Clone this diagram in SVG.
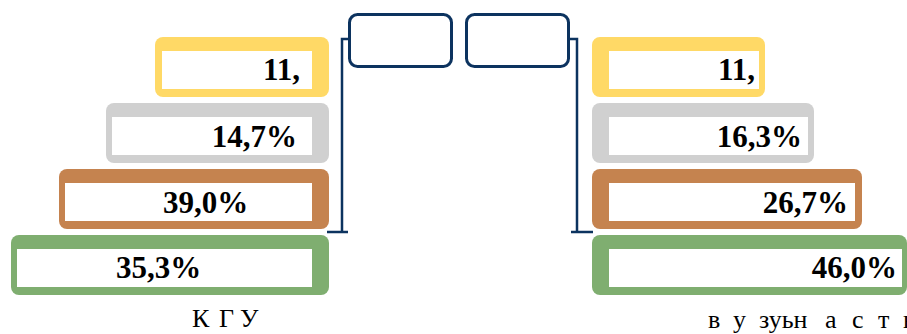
<svg xmlns="http://www.w3.org/2000/svg" width="907" height="334" viewBox="0 0 907 334">
<style>
.inner{fill:#ffffff}
.y{fill:#ffd966}
.g{fill:#d0d0d0}
.o{fill:#c5834f}
.gr{fill:#7fae70}
.val{font-family:"Liberation Serif","Times New Roman",serif;font-weight:bold;font-size:31px;fill:#000}
.lab{font-family:"Liberation Serif","Times New Roman",serif;font-size:26px;fill:#000}
.blue{fill:#ffffff;stroke:#0c335f;stroke-width:3}
.conn{fill:none;stroke:#0c335f;stroke-width:2.5}
</style>
<rect width="907" height="334" fill="#ffffff"/>
<g id="left-yellow">
<rect class="y" x="155" y="37" width="174" height="60" rx="8"/>
<rect class="inner" x="162" y="51" width="150" height="38"/>
<text class="val" x="300" y="80" text-anchor="end">11,</text>
</g>
<g id="left-gray">
<rect class="g" x="106" y="103" width="223" height="60" rx="8"/>
<rect class="inner" x="112" y="117" width="200" height="38"/>
<text class="val" x="297" y="147" text-anchor="end">14,7%</text>
</g>
<g id="left-orange">
<rect class="o" x="59" y="169" width="270" height="60" rx="8"/>
<rect class="inner" x="65" y="183" width="247" height="38"/>
<text class="val" x="163" y="213">39,0%</text>
</g>
<g id="left-green">
<rect class="gr" x="11" y="235" width="318" height="60" rx="8"/>
<rect class="inner" x="17" y="249" width="295" height="38"/>
<text class="val" x="116" y="278">35,3%</text>
</g>
<g id="right-yellow">
<rect class="y" x="592" y="37" width="173" height="60" rx="8"/>
<rect class="inner" x="609" y="51" width="150" height="38"/>
<text class="val" x="755" y="80" text-anchor="end">11,</text>
</g>
<g id="right-gray">
<rect class="g" x="592" y="103" width="222" height="60" rx="8"/>
<rect class="inner" x="609" y="117" width="199" height="38"/>
<text class="val" x="802" y="147" text-anchor="end">16,3%</text>
</g>
<g id="right-orange">
<rect class="o" x="592" y="169" width="270" height="60" rx="8"/>
<rect class="inner" x="609" y="183" width="246" height="38"/>
<text class="val" x="848" y="213" text-anchor="end">26,7%</text>
</g>
<g id="right-green">
<rect class="gr" x="592" y="235" width="315" height="60" rx="8"/>
<rect class="inner" x="609" y="249" width="293" height="38"/>
<text class="val" x="897" y="278" text-anchor="end">46,0%</text>
</g>
<g id="box-left">
<rect class="blue" x="349.5" y="14.5" width="102" height="52" rx="8"/>
</g>
<g id="box-right">
<rect class="blue" x="466.5" y="14.5" width="102" height="52" rx="8"/>
</g>
<g id="connectors">
<path class="conn" d="M348 39 H342 V232 M327 232 H348"/>
<path class="conn" d="M570 39 H577 V232 M571 232 H593"/>
</g>
<g id="labels">
<text class="lab" y="327"><tspan x="192">К</tspan><tspan x="219">Г</tspan><tspan x="240">У</tspan></text>
<text class="lab" y="328"><tspan x="708">в</tspan><tspan x="733">у</tspan><tspan x="759">зуьн</tspan><tspan x="825">а</tspan><tspan x="852">с</tspan><tspan x="878">т</tspan><tspan x="903">н</tspan></text>
</g>
</svg>
